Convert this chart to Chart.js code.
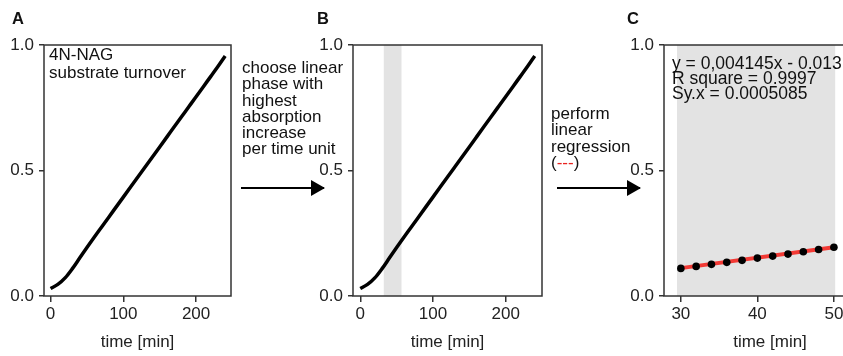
<!DOCTYPE html>
<html>
<head>
<meta charset="utf-8">
<script src="https://cdn.jsdelivr.net/npm/chart.js@4"></script>
<style>
  body { margin: 0; width: 843px; height: 356px; overflow: hidden; position: relative; background: #fff;
         font-family: "Liberation Sans", Arial, sans-serif; color: #111; }
  canvas { position: absolute; top: 0; }
  .lbl { position: absolute; top: 10px; font-weight: bold; font-size: 16.5px; line-height: 16px; }
  .note { position: absolute; font-size: 17px; line-height: 16.3px; white-space: nowrap; }
  .arrow { position: absolute; top: 187px; height: 2px; background: #000; }
  .arrow::after { content: ""; position: absolute; right: -1px; top: -7px; border-left: 14px solid #000;
                  border-top: 8px solid transparent; border-bottom: 8px solid transparent; }
</style>
</head>
<body>
<canvas id="chartA" width="240" height="356" style="left:0px"></canvas>
<canvas id="chartB" width="240" height="356" style="left:309px"></canvas>
<canvas id="chartC" width="260" height="356" style="left:620px"></canvas>

<div class="lbl" style="left:12px">A</div>
<div class="lbl" style="left:317px">B</div>
<div class="lbl" style="left:627px">C</div>

<div class="note" style="left:49px; top:46px; line-height:17.5px">4N-NAG<br>substrate turnover</div>
<div class="note" style="left:242px; top:60px">choose linear<br>phase with<br>highest<br>absorption<br>increase<br>per time unit</div>
<div class="note" style="left:551px; top:106px">perform<br>linear<br>regression<br>(<span style="color:#e8231f">---</span>)</div>
<div class="note" style="left:672px; top:56px; font-size:17.5px; line-height:15px">y = 0,004145x - 0.013<br>R square = 0.9997<br>Sy.x = 0.0005085</div>

<div class="arrow" style="left:241px; width:83px"></div>
<div class="arrow" style="left:557px; width:83px"></div>

<script>
// ---- data ----
const timeMin = [0, 10, 20, 30, 40, 50, 60, 70, 80, 90, 100, 110, 120,
                 130, 140, 150, 160, 170, 180, 190, 200, 210, 220, 230, 240];
const absorbance = [0.030, 0.046, 0.072, 0.109, 0.151, 0.193, 0.234, 0.274, 0.314, 0.354, 0.394, 0.434, 0.474,
                    0.514, 0.554, 0.594, 0.634, 0.674, 0.714, 0.754, 0.794, 0.834, 0.874, 0.914, 0.956];

const bandB = [32, 57];      // chosen linear phase
const bandC = [29.5, 50.2];

const fitTime = [30, 32, 34, 36, 38, 40, 42, 44, 46, 48, 50];
const fitAbs = [0.110, 0.118, 0.126, 0.134, 0.142, 0.151, 0.159, 0.167, 0.176, 0.185, 0.194];
const regX = [30, 50];
const regY = [0.111, 0.194];

const yTicks = [0, 0.5, 1];
const xTicksAB = [0, 100, 200];
const xTicksC = [30, 40, 50];

const INK = "#222";
const FONT = "'Liberation Sans', Arial, sans-serif";
Chart.defaults.font.family = FONT;

// box around the plot area
const framePlugin = {
  id: "frame",
  afterDatasetsDraw(chart) {
    const { ctx, chartArea: a } = chart;
    ctx.save();
    ctx.strokeStyle = "#333";
    ctx.lineWidth = 1.5;
    ctx.strokeRect(a.left, a.top, a.right - a.left, a.bottom - a.top);
    ctx.restore();
  }
};

const pts = (xs, ys) => xs.map((x, i) => ({ x, y: ys[i] }));

function bandSet(range) {
  return {
    data: pts(range, [1, 1]),
    fill: "origin",
    backgroundColor: "#e3e3e3",
    borderWidth: 0,
    pointRadius: 0,
    order: 3
  };
}

function makeChart(id, datasets, xMin, xMax, xTicks, padRight) {
  const ctx = document.getElementById(id).getContext("2d");
  return new Chart(ctx, {
    type: "line",
    data: { datasets },
    options: {
      responsive: false,
      animation: false,
      devicePixelRatio: 1,
      layout: { padding: { top: 45, right: padRight, left: 0, bottom: 0 } },
      plugins: { legend: { display: false }, tooltip: { enabled: false } },
      scales: {
        x: {
          type: "linear",
          min: xMin,
          max: xMax,
          afterBuildTicks: s => { s.ticks = xTicks.map(v => ({ value: v })); },
          afterFit: s => { s.height = 60; },
          border: { display: false },
          grid: { drawOnChartArea: false, tickLength: 6, color: "#333", lineWidth: 1.5 },
          ticks: { color: INK, font: { size: 17 }, padding: 2, maxRotation: 0, callback: v => String(v) },
          title: { display: true, text: "time [min]", color: INK, font: { size: 17 }, padding: { top: 0, bottom: 3 } }
        },
        y: {
          min: 0,
          max: 1,
          afterBuildTicks: s => { s.ticks = yTicks.map(v => ({ value: v })); },
          afterFit: s => { s.width = 44; },
          border: { display: false },
          grid: { drawOnChartArea: false, tickLength: 5, color: "#333", lineWidth: 1.5 },
          ticks: { color: INK, font: { size: 17 }, padding: 5, callback: v => v.toFixed(1) }
        }
      }
    },
    plugins: [framePlugin]
  });
}

const curve = () => ({
  data: pts(timeMin, absorbance),
  borderColor: "#000",
  borderWidth: 3.5,
  pointRadius: 0,
  cubicInterpolationMode: "monotone",
  fill: false,
  order: 1
});

// A: full kinetic trace
makeChart("chartA", [curve()], -9, 248, xTicksAB, 9);

// B: same trace with the chosen window shaded
makeChart("chartB", [curve(), bandSet(bandB)], -10, 250, xTicksAB, 7);

// C: zoom on the window with regression
makeChart("chartC", [
  {
    data: pts(fitTime, fitAbs),
    showLine: false,
    pointRadius: 3.8,
    pointBackgroundColor: "#000",
    pointBorderWidth: 0,
    order: 0
  },
  {
    data: pts(regX, regY),
    borderColor: "#f23a35",
    borderWidth: 4,
    pointRadius: 0,
    fill: false,
    order: 1
  },
  bandSet(bandC)
], 27.8, 55.5, xTicksC, 0);
</script>
</body>
</html>
